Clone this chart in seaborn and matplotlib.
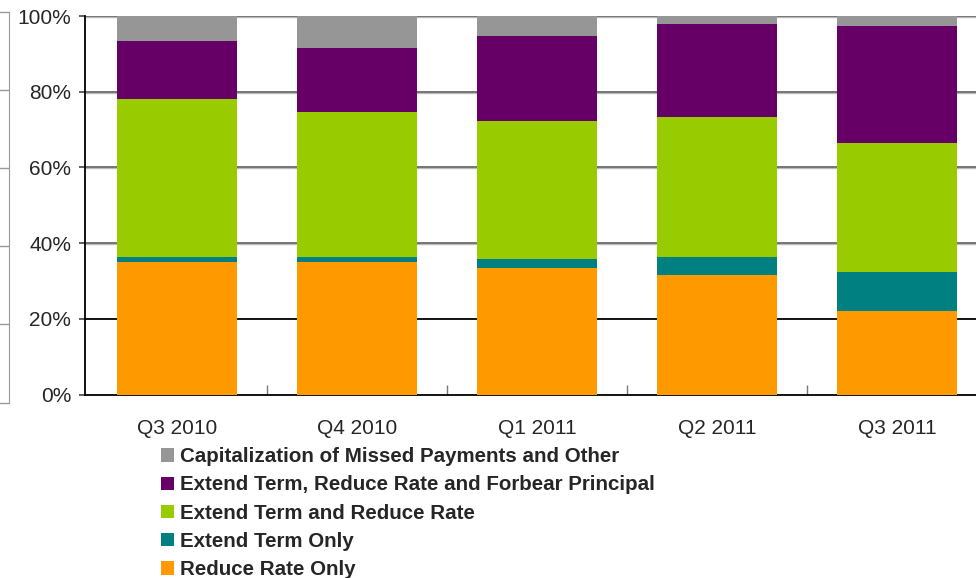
import numpy as np
import matplotlib
matplotlib.use("Agg")
import matplotlib.pyplot as plt
import seaborn as sns
import pandas as pd
from matplotlib.patches import Patch
from matplotlib.ticker import FixedLocator, PercentFormatter

quarters = ["Q3 2010", "Q4 2010", "Q1 2011", "Q2 2011", "Q3 2011"]
# shares in percent, bottom of the stack first
reduce_rate_only = [35.0, 35.0, 33.4, 31.5, 22.0]
extend_term_only = [1.3, 1.3, 2.4, 4.8, 10.3]
extend_and_reduce = [41.8, 38.3, 36.4, 37.0, 34.1]
extend_reduce_forbear = [15.3, 17.0, 22.5, 24.6, 31.0]
capitalization_other = [6.6, 8.4, 5.3, 2.1, 2.6]

series = ["Reduce Rate Only", "Extend Term Only", "Extend Term and Reduce Rate",
          "Extend Term, Reduce Rate and Forbear Principal",
          "Capitalization of Missed Payments and Other"]
colors = ["#FF9900", "#008080", "#99CC00", "#660066", "#969696"]

df = pd.DataFrame({"quarter": quarters,
                   series[0]: reduce_rate_only,
                   series[1]: extend_term_only,
                   series[2]: extend_and_reduce,
                   series[3]: extend_reduce_forbear,
                   series[4]: capitalization_other})
cum = df[series].cumsum(axis=1)
cum["quarter"] = quarters

sns.set_style("white")
plt.rcParams["font.family"] = ["Liberation Sans", "DejaVu Sans"]

fig = plt.figure(figsize=(9.76, 5.78), dpi=100)
ax = fig.add_axes([85 / 976, 1 - 394.5 / 578, 900 / 976, 378.5 / 578])

# draw cumulative totals from the top layer down so lower layers cover
for name, col in reversed(list(zip(series, colors))):
    sns.barplot(data=cum, x="quarter", y=name, order=quarters, color=col,
                width=0.667, saturation=1, ax=ax, zorder=3, linewidth=0)

ax.set_xlim(-0.511, 4.489)
ax.set_ylim(0, 100)
ax.set_xlabel("")
ax.set_ylabel("")
ax.yaxis.set_major_locator(FixedLocator([0, 20, 40, 60, 80, 100]))
ax.yaxis.set_major_formatter(PercentFormatter(decimals=0))
for y in [40, 60, 80, 100]:
    ax.axhline(y - 0.25, color="#bbbbbb", lw=1.0, zorder=1)
    ax.axhline(y, color="#6a6a6a", lw=1.3, zorder=2)
ax.axhline(20, color="black", lw=1.3, zorder=2)

for s in ["top", "right"]:
    ax.spines[s].set_visible(False)
ax.spines["left"].set_color("black")
ax.spines["bottom"].set_color("black")
ax.spines["left"].set_linewidth(1.3)
ax.spines["bottom"].set_linewidth(1.3)
ax.tick_params(axis="y", left=True, direction="out", length=4, width=1.2,
               color="#444444", labelsize=15, pad=6)
ax.set_xticks(range(len(quarters)))
ax.set_xticklabels(quarters)
ax.set_xticks([0.5, 1.5, 2.5, 3.5], minor=True)
ax.tick_params(axis="x", which="major", bottom=False, labelsize=15, pad=14)
ax.tick_params(axis="x", which="minor", bottom=True, direction="in",
               length=7, width=1, color="#777777")

# remnant of the neighbouring chart frame at far left
ax2 = fig.add_axes([-0.1, 1 - 402.5 / 578, 0.1 + 9 / 976, 390.5 / 578])
ax2.set_xticks([])
ax2.yaxis.tick_right()
ax2.set_ylim(0, 5)
ax2.set_yticks(range(6))
ax2.set_yticklabels([])
ax2.tick_params(axis="y", direction="in", length=9, width=1, color="#999999")
for s in ["top", "bottom", "left"]:
    ax2.spines[s].set_visible(False)
ax2.spines["right"].set_color("#999999")
ax2.patch.set_alpha(0)

handles = [Patch(facecolor=c, edgecolor="none") for c in colors]
leg = fig.legend(handles[::-1], series[::-1], loc="upper left",
                 bbox_to_anchor=(153 / 976, 1 - 439 / 578), frameon=False,
                 prop={"weight": "bold", "size": 14.8},
                 handlelength=0.62, handleheight=0.62, handletextpad=0.3,
                 labelspacing=0.45, borderaxespad=0)

fig.savefig("out.png", dpi=100)
